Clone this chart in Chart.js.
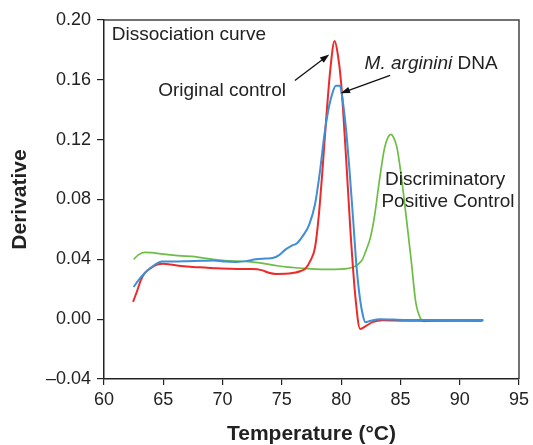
<!DOCTYPE html>
<html>
<head>
<meta charset="utf-8">
<script src="https://cdn.jsdelivr.net/npm/chart.js@4.4.1/dist/chart.umd.min.js"></script>
<style>
  html, body { margin: 0; padding: 0; background: #fff; }
  canvas { display: block; }
</style>
</head>
<body>
<canvas id="meltChart" width="533" height="445"></canvas>
<script>
// Melt curve data
const blueTemp = [62.5, 62.9, 63.4, 63.9, 64.4, 64.9, 65.8, 67.0, 68.2, 69.2, 70.2, 71.2, 72.0, 72.8, 73.6, 74.3, 74.8, 75.3, 75.8, 76.3, 76.8, 77.3, 77.8, 78.2, 78.6, 79.0, 79.3, 79.55, 79.9, 80.1, 80.4, 80.7, 81.0, 81.3, 81.6, 81.85, 82.05, 82.5, 83.3, 85.5, 88.5, 92.0];
const blueDeriv = [0.0215, 0.026, 0.0305, 0.034, 0.037, 0.0386, 0.0385, 0.0387, 0.039, 0.0393, 0.0385, 0.0383, 0.0388, 0.040, 0.0405, 0.041, 0.043, 0.0465, 0.049, 0.051, 0.056, 0.063, 0.077, 0.098, 0.124, 0.143, 0.152, 0.156, 0.156, 0.148, 0.128, 0.100, 0.068, 0.035, 0.013, 0.002, -0.002, -0.001, 0.0, -0.0006, -0.0005, -0.0005];

const redTemp = [62.45, 62.8, 63.1, 63.45, 63.9, 64.5, 65.0, 65.6, 66.5, 67.5, 68.5, 69.5, 70.5, 71.5, 72.5, 73.3, 73.9, 74.5, 75.3, 76.0, 76.6, 77.0, 77.4, 77.8, 78.1, 78.4, 78.75, 79.1, 79.45, 79.7, 80.0, 80.4, 80.8, 81.2, 81.6, 82.1, 82.7, 83.5, 85.5, 88.5, 91.9];
const redDeriv = [0.0115, 0.019, 0.026, 0.031, 0.034, 0.0366, 0.037, 0.0365, 0.0355, 0.0348, 0.0345, 0.034, 0.0337, 0.0335, 0.0335, 0.0328, 0.031, 0.0302, 0.0303, 0.031, 0.0322, 0.034, 0.039, 0.048, 0.068, 0.097, 0.135, 0.168, 0.186, 0.178, 0.158, 0.110, 0.057, 0.015, -0.0065, -0.0045, -0.0018, -0.0007, -0.001, -0.001, -0.001];

const greenTemp = [62.5, 62.9, 63.4, 64.0, 64.8, 65.6, 66.5, 67.4, 68.3, 69.2, 70.2, 71.2, 72.2, 73.0, 73.8, 74.6, 75.5, 76.5, 77.5, 78.5, 79.5, 80.3, 80.9, 81.4, 81.8, 82.1, 82.45, 82.8, 83.25, 83.65, 83.95, 84.2, 84.45, 84.7, 85.0, 85.45, 85.9, 86.3, 86.7, 87.0, 88.0, 90.0, 92.0];
const greenDeriv = [0.040, 0.043, 0.0447, 0.0445, 0.0437, 0.043, 0.0423, 0.042, 0.041, 0.040, 0.0392, 0.0388, 0.0385, 0.0378, 0.0368, 0.0357, 0.0348, 0.0342, 0.0336, 0.0333, 0.0333, 0.0336, 0.0345, 0.0365, 0.040, 0.046, 0.054, 0.068, 0.094, 0.114, 0.1215, 0.1235, 0.121, 0.115, 0.100, 0.071, 0.040, 0.011, 0.0005, -0.0015, -0.001, -0.0008, -0.001];

const xTicks = [60, 65, 70, 75, 80, 85, 90, 95];
const yTicks = [-0.04, 0.00, 0.04, 0.08, 0.12, 0.16, 0.20];

const toPoints = (xs, ys) => xs.map((x, i) => ({ x: x, y: ys[i] }));

Chart.defaults.font.family = '"Liberation Sans", Arial, Helvetica, sans-serif';
Chart.defaults.color = '#222';

// Text labels and arrows, placed in data units
const notes = {
    id: 'notes',
    afterDatasetsDraw(chart) {
        const { ctx, chartArea, scales: { x, y } } = chart;
        const px = v => x.getPixelForValue(v);
        const py = v => y.getPixelForValue(v);

        ctx.save();
        // frame on top and right
        ctx.strokeStyle = '#444';
        ctx.lineWidth = 1.5;
        ctx.beginPath();
        ctx.moveTo(chartArea.left, chartArea.top);
        ctx.lineTo(chartArea.right, chartArea.top);
        ctx.lineTo(chartArea.right, chartArea.bottom);
        ctx.stroke();

        ctx.fillStyle = '#222';
        ctx.textBaseline = 'middle';
        ctx.font = '19px "Liberation Sans", Arial, sans-serif';
        ctx.textAlign = 'left';
        ctx.fillText('Dissociation curve', px(60.66), py(0.190));
        ctx.textAlign = 'center';
        ctx.fillText('Original control', px(69.96), py(0.1524));
        ctx.textAlign = 'left';
        ctx.fillText('Discriminatory', px(83.7), py(0.0933));
        ctx.fillText('Positive Control', px(83.4), py(0.0786));

        ctx.font = 'italic 19px "Liberation Sans", Arial, sans-serif';
        const it = 'M. arginini';
        ctx.fillText(it, px(81.98), py(0.1707));
        const w = ctx.measureText(it).width;
        ctx.font = '19px "Liberation Sans", Arial, sans-serif';
        ctx.fillText(' DNA', px(81.98) + w, py(0.1707));

        const arrow = (x0, y0, x1, y1) => {
            const a = px(x0), b = py(y0), c = px(x1), d = py(y1);
            const ang = Math.atan2(d - b, c - a);
            const head = 10;
            ctx.strokeStyle = '#111';
            ctx.lineWidth = 1.3;
            ctx.beginPath();
            ctx.moveTo(a, b);
            ctx.lineTo(c - Math.cos(ang) * head * 0.8, d - Math.sin(ang) * head * 0.8);
            ctx.stroke();
            ctx.fillStyle = '#111';
            ctx.beginPath();
            ctx.moveTo(c, d);
            ctx.lineTo(c - head * Math.cos(ang - 0.33), d - head * Math.sin(ang - 0.33));
            ctx.lineTo(c - head * Math.cos(ang + 0.33), d - head * Math.sin(ang + 0.33));
            ctx.closePath();
            ctx.fill();
        };
        arrow(76.1, 0.1595, 79.0, 0.177);
        arrow(84.13, 0.163, 79.95, 0.151);
        ctx.restore();
    }
};

const ctx = document.getElementById('meltChart').getContext('2d');
new Chart(ctx, {
    type: 'line',
    data: {
        datasets: [
            {
                label: 'M. arginini DNA',
                data: toPoints(blueTemp, blueDeriv),
                borderColor: '#3f8fd6',
                borderWidth: 2
            },
            {
                label: 'Original control',
                data: toPoints(redTemp, redDeriv),
                borderColor: '#ec2a2a',
                borderWidth: 2
            },
            {
                label: 'Discriminatory Positive Control',
                data: toPoints(greenTemp, greenDeriv),
                borderColor: '#6cbd45',
                borderWidth: 1.7
            }
        ]
    },
    options: {
        responsive: false,
        animation: false,
        devicePixelRatio: 1,
        layout: { padding: { top: 20, right: 13, left: 0, bottom: 0 } },
        elements: {
            point: { radius: 0 },
            line: { cubicInterpolationMode: 'monotone', fill: false }
        },
        plugins: {
            legend: { display: false },
            tooltip: { enabled: false }
        },
        scales: {
            x: {
                type: 'linear',
                min: 60,
                max: 95,
                afterBuildTicks: scale => { scale.ticks = xTicks.map(v => ({ value: v })); },
                afterFit: scale => { scale.height = 66; },
                ticks: { font: { size: 18 }, color: '#222', padding: 4 },
                grid: { drawOnChartArea: false, tickLength: 6, color: '#222', lineWidth: 1.2 },
                border: { color: '#222', width: 1.5 },
                title: {
                    display: true,
                    text: 'Temperature (°C)',
                    font: { size: 21, weight: 'bold', lineHeight: 1 },
                    color: '#222',
                    padding: { top: 0, bottom: 0 }
                }
            },
            y: {
                min: -0.04,
                max: 0.20,
                afterBuildTicks: scale => { scale.ticks = yTicks.map(v => ({ value: v })); },
                afterFit: scale => { scale.width = 104; },
                ticks: {
                    font: { size: 18 },
                    color: '#222',
                    padding: 6,
                    callback: v => (v < -1e-9 ? '\u2013' : '') + Math.abs(v).toFixed(2)
                },
                grid: { drawOnChartArea: false, tickLength: 7, color: '#222', lineWidth: 1.2 },
                border: { color: '#222', width: 1.5 },
                title: {
                    display: true,
                    text: 'Derivative',
                    font: { size: 21, weight: 'bold', lineHeight: 1 },
                    color: '#222',
                    padding: { top: 10, bottom: 0 }
                }
            }
        }
    },
    plugins: [notes]
});
</script>
</body>
</html>
